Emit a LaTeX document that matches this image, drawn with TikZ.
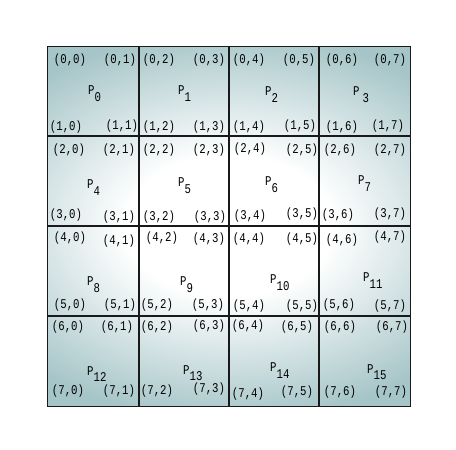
\documentclass[tikz,border=0pt]{standalone}
\usepackage{fontspec}
\newfontfamily\lblfont{Liberation Mono}
\definecolor{edgeteal}{RGB}{166,197,200}
\definecolor{gridline}{RGB}{25,25,25}
\pgfdeclareradialshading{gridglow}{\pgfpoint{0bp}{0bp}}{color(0bp)=(white); color(9bp)=(white); color(25bp)=(edgeteal); color(50bp)=(edgeteal)}
\newcommand{\talltext}[1]{\scalebox{1}[1.25]{#1}}
\tikzset{
  coordlbl/.style={font=\lblfont\fontsize{10.7}{12}\selectfont, inner sep=0pt},
  plbl/.style={font=\lblfont\fontsize{10.7}{12}\selectfont, inner sep=0pt, anchor=base west},
  innerline/.style={draw=gridline, line width=1.6pt},
  outerline/.style={draw=gridline, line width=0.9pt}
}
\begin{document}
\begin{tikzpicture}[x=1pt,y=-1pt]
\useasboundingbox (0,0) rectangle (456,450);
\begin{scope}
  \clip (47,46) rectangle (410,406);
  \fill[edgeteal] (47,46) rectangle (410,406);
  \shade[shading=gridglow] (229,226) ellipse (285 and 195);
\end{scope}
% grid lines
\coordinate (v1t) at (139,46); \coordinate (v1b) at (139,406);
\coordinate (v2t) at (229,46); \coordinate (v2b) at (229,406);
\coordinate (v3t) at (319,46); \coordinate (v3b) at (319,406);
\coordinate (h1l) at (47,136); \coordinate (h1r) at (410,136);
\coordinate (h2l) at (47,226); \coordinate (h2r) at (410,226);
\coordinate (h3l) at (47,316); \coordinate (h3r) at (410,316);
\foreach \a/\b in {v1t/v1b,v2t/v2b,v3t/v3b,h1l/h1r,h2l/h2r,h3l/h3r}
  \draw[innerline] (\a) -- (\b);
\draw[outerline] (47,46) rectangle (410,406);
% coordinate labels
\foreach \r/\c/\x/\y in {
 0/0/70/60, 0/1/120/60, 0/2/159/60, 0/3/209/60, 0/4/249/60, 0/5/299/60, 0/6/342/60, 0/7/390/60,
 1/0/66/127, 1/1/122/126, 1/2/159/127, 1/3/209/127, 1/4/249/127, 1/5/300/126, 1/6/342/127, 1/7/388/126,
 2/0/69/150, 2/1/119/150, 2/2/159/150, 2/3/209/150, 2/4/250/149, 2/5/302/150, 2/6/340/150, 2/7/390/150,
 3/0/66/215, 3/1/119/217, 3/2/159/217, 3/3/210/217, 3/4/250/216, 3/5/302/214, 3/6/338/215, 3/7/390/214,
 4/0/70/238, 4/1/119/241, 4/2/162/238, 4/3/209/239, 4/4/249/239, 4/5/302/239, 4/6/342/240, 4/7/390/237,
 5/0/70/305, 5/1/120/305, 5/2/157/305, 5/3/208/305, 5/4/249/306, 5/5/302/306, 5/6/339/305, 5/7/390/306,
 6/0/68/327, 6/1/117/327, 6/2/157/327, 6/3/209/326, 6/4/248/326, 6/5/297/327, 6/6/340/327, 6/7/392/327,
 7/0/68/391, 7/1/119/391, 7/2/157/391, 7/3/209/389, 7/4/248/394, 7/5/297/392, 7/6/340/392, 7/7/391/392}
  \node[coordlbl] (c\r\c) at (\x,\y) {\talltext{(\r,\c)}};
% process labels
\foreach \n/\x/\y in {0/88/94.5, 1/178/94.5, 2/265/95.5, 4/87/188.5, 5/178/186.5, 6/265/185.5, 7/358/184.5,
 8/87/285.5, 9/180/285.5, 10/270/283.5, 11/363/281.5, 12/87/375, 13/183/374, 14/270/371.5, 15/367/373}
  \node[plbl] (p\n) at (\x,\y) {\talltext{P\raisebox{-5.5pt}{\n}}};
\node[plbl] (p3) at (353,95.5) {\talltext{P\hspace{3pt}\raisebox{-5.5pt}{3}}};
\end{tikzpicture}
\end{document}
